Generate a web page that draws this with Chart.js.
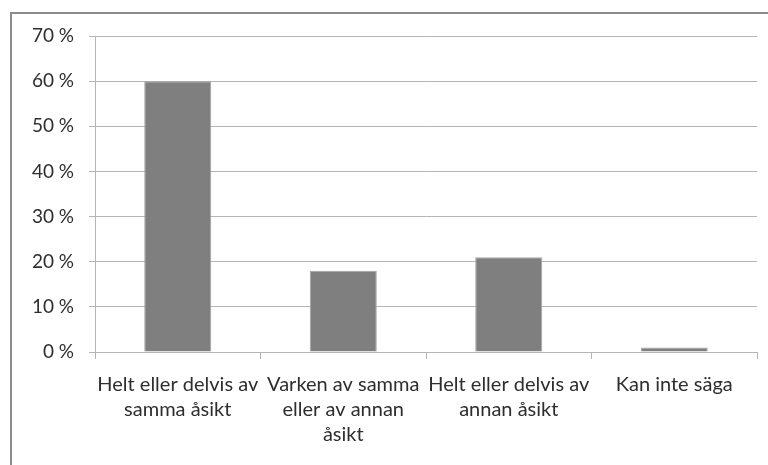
<!DOCTYPE html>
<html>
<head>
<meta charset="utf-8">
<script src="https://cdn.jsdelivr.net/npm/chart.js@4"></script>
<style>
  html, body { margin: 0; padding: 0; background: #fff; overflow: hidden; }
  #wrap { position: relative; width: 768px; height: 465px; }
  #frame { position: absolute; left: 10px; top: 12px; width: 800px; height: 500px; border: 2px solid #8c8c8c; box-sizing: border-box; pointer-events: none; }
  canvas { position: absolute; left: 0; top: 0; }
</style>
</head>
<body>
<div id="wrap">
  <canvas id="chart" width="768" height="465"></canvas>
  <div id="frame"></div>
</div>
<script>
const categories = [
  ['Helt eller delvis av', 'samma åsikt'],
  ['Varken av samma', 'eller av annan', 'åsikt'],
  ['Helt eller delvis av', 'annan åsikt'],
  'Kan inte säga'
]
const values = [60, 18, 21, 1]
const yTicks = [0, 10, 20, 30, 40, 50, 60, 70]

const gridColor = '#b5b5b5'
const textColor = '#2e2e2e'
const xFont = { family: 'Lato, "Open Sans", sans-serif', size: 20, lineHeight: 1.26 }
const yFont = { family: 'Lato, "Open Sans", sans-serif', size: 19 }

new Chart(document.getElementById('chart').getContext('2d'), {
  type: 'bar',
  data: {
    labels: categories,
    datasets: [{
      data: values,
      backgroundColor: '#7f7f7f',
      borderColor: '#a3a3a3',
      borderWidth: 1,
      barPercentage: 0.405,
      categoryPercentage: 1
    }]
  },
  options: {
    responsive: false,
    animation: false,
    layout: { padding: { top: 36, right: 11, left: 0, bottom: 0 } },
    plugins: { legend: { display: false }, tooltip: { enabled: false } },
    scales: {
      x: {
        grid: { offset: true, drawOnChartArea: false, color: gridColor, tickLength: 7, lineWidth: 1 },
        border: { color: gridColor },
        ticks: { color: textColor, font: xFont, padding: 13, maxRotation: 0, autoSkip: false },
        afterFit: (s) => { s.height = 113 }
      },
      y: {
        min: 0,
        max: 70,
        afterBuildTicks: (s) => { s.ticks = yTicks.map(v => ({ value: v })) },
        grid: { color: gridColor, tickLength: 6 },
        border: { color: gridColor },
        ticks: { color: textColor, font: yFont, padding: 15, callback: (v) => v + '\u2005%' },
        afterFit: (s) => { s.width = 95 }
      }
    }
  }
})
</script>
</body>
</html>
